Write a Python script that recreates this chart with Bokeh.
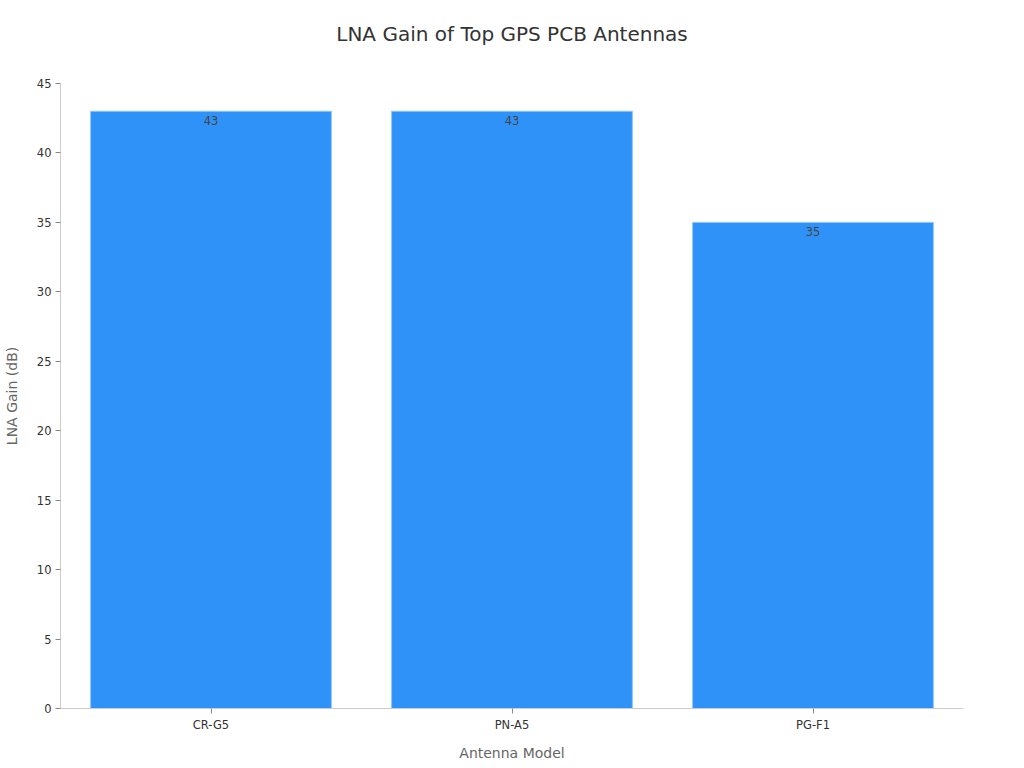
from bokeh.plotting import figure
from bokeh.models import ColumnDataSource, FactorRange, Range1d, SingleIntervalTicker, Title
from bokeh.embed import file_html
from bokeh.resources import INLINE
from bokeh.core.properties import value

models = ["CR-G5", "PN-A5", "PG-F1"]
gains = [43, 43, 35]
labels = [str(g) for g in gains]

FONT = "DejaVu Sans"

src = ColumnDataSource(dict(model=models, gain=gains, label=labels))

p = figure(x_range=FactorRange(*models, range_padding=0.0), y_range=Range1d(0, 45),
           width=1024, height=768, output_backend="svg", toolbar_location=None,
           min_border_left=59, min_border_right=61, min_border_top=83, min_border_bottom=60)

p.vbar(x="model", top="gain", width=0.8, source=src, fill_color="#2f92f8",
       line_color="#8ec5fa", line_width=1)

p.text(x="model", y="gain", text="label", source=src, text_align="center",
       text_baseline="top", y_offset=5, text_font=value(FONT),
       text_font_size="11.5px", text_color="#444444")

# spacer between the title and the plot frame
p.add_layout(Title(text=" ", text_font_size="10px", standoff=20), "above")

p.title.text = "LNA Gain of Top GPS PCB Antennas"
p.title.align = "center"
p.title.text_font = FONT
p.title.text_font_size = "20px"
p.title.text_font_style = "normal"
p.title.text_color = "#333333"
p.title.standoff = 10

p.outline_line_color = None
p.xgrid.grid_line_color = None
p.ygrid.grid_line_color = None

p.yaxis.ticker = SingleIntervalTicker(interval=5)
p.yaxis.minor_tick_line_color = None

for ax in (p.xaxis[0], p.yaxis[0]):
    ax.axis_line_color = "#cccccc"
    ax.major_tick_line_color = "#888888"
    ax.major_tick_out = 5
    ax.major_tick_in = 0
    ax.major_label_text_font = FONT
    ax.major_label_text_font_size = "11.5px"
    ax.major_label_text_color = "#333333"
    ax.axis_label_text_font = FONT
    ax.axis_label_text_font_size = "14px"
    ax.axis_label_text_font_style = "normal"
    ax.axis_label_text_color = "#666666"

p.xaxis.axis_label = "Antenna Model"
p.yaxis.axis_label = "LNA Gain (dB)"
p.xaxis.major_label_standoff = 4
p.xaxis.axis_label_standoff = 10
p.yaxis.major_label_standoff = 4
p.yaxis.axis_label_standoff = 14

open("out.html", "w").write(file_html(p, INLINE))
